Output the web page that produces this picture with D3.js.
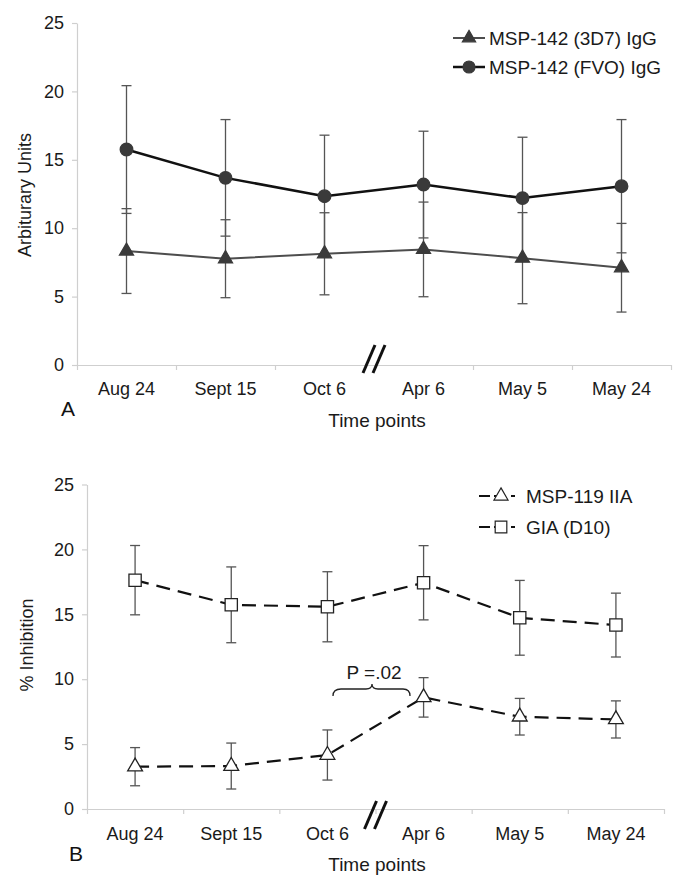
<!DOCTYPE html>
<html>
<head>
<meta charset="utf-8">
<script src="https://cdn.jsdelivr.net/npm/d3@7"></script>
<style>
  body { margin: 0; background: #fff; }
  svg { display: block; font-family: "Liberation Sans", Arial, sans-serif; }
</style>
</head>
<body>
<div id="mainDiv"></div>
<script>
const timePoints = ["Aug 24", "Sept 15", "Oct 6", "Apr 6", "May 5", "May 24"];
const yTicks = [0, 5, 10, 15, 20, 25];

// panel A
const msp142_3d7 = [8.33, 7.77, 8.13, 8.45, 7.81, 7.11];
const msp142_3d7Err = [3.1, 2.85, 3.0, 3.46, 3.33, 3.24];
const msp142_fvo = [15.75, 13.68, 12.34, 13.19, 12.2, 13.07];
const msp142_fvoErr = [4.67, 4.26, 4.46, 3.9, 4.45, 4.87];

// panel B
const msp119 = [3.26, 3.31, 4.16, 8.6, 7.11, 6.9];
const msp119Err = [1.47, 1.77, 1.93, 1.52, 1.41, 1.43];
const gia = [17.63, 15.73, 15.58, 17.43, 14.73, 14.17];
const giaErr = [2.67, 2.92, 2.7, 2.86, 2.88, 2.46];

const svg = d3.select("#mainDiv")
  .append("svg")
  .attr("width", 685)
  .attr("height", 890);

function drawPanel(panel) {
  let x = d3.scaleBand()
    .domain(timePoints)
    .range([panel.left, panel.right]);

  let xEdges = d3.scaleLinear()
    .domain([0, timePoints.length])
    .range([panel.left, panel.right]);

  let y = d3.scaleLinear()
    .domain([0, 25])
    .range([panel.bottom, panel.top]);

  const g = svg.append("g");

  // axes
  let yAxis = g.append("g")
    .attr("transform", `translate(${panel.left},0)`)
    .call(d3.axisLeft(y).tickValues(yTicks).tickSize(5).tickPadding(8).tickSizeOuter(0));

  let xAxis = g.append("g")
    .attr("transform", `translate(0,${panel.bottom})`)
    .call(d3.axisBottom(xEdges).tickValues(d3.range(timePoints.length + 1))
      .tickFormat("").tickSize(5).tickSizeOuter(0));

  let xLabels = g.append("g")
    .attr("transform", `translate(0,${panel.bottom + panel.labelOffset})`)
    .call(d3.axisBottom(x).tickSize(0).tickPadding(0));

  [yAxis, xAxis, xLabels].forEach(a => {
    a.select(".domain").attr("stroke", "#cfcfcf").attr("stroke-width", 1.2);
    a.selectAll(".tick line").attr("stroke", "#cfcfcf").attr("stroke-width", 1.2);
    a.selectAll(".tick text")
      .attr("font-size", 18)
      .attr("fill", "#1a1a1a")
      .attr("font-family", "Liberation Sans, Arial, sans-serif");
  });
  xLabels.select(".domain").remove();

  // y title
  g.append("text")
    .attr("transform", `translate(${panel.yTitleX},${panel.yTitleY}) rotate(-90)`)
    .attr("text-anchor", "middle")
    .attr("dominant-baseline", "central")
    .attr("font-size", 18)
    .attr("fill", "#1a1a1a")
    .text(panel.yTitle);

  g.append("text")
    .attr("x", 377)
    .attr("y", panel.bottom + 55)
    .attr("text-anchor", "middle")
    .attr("dominant-baseline", "central")
    .attr("font-size", 19)
    .attr("fill", "#1a1a1a")
    .text("Time points");

  g.append("text")
    .attr("x", panel.letterX)
    .attr("y", panel.letterY)
    .attr("text-anchor", "middle")
    .attr("dominant-baseline", "central")
    .attr("font-size", 21)
    .attr("fill", "#111")
    .text(panel.letter);

  // axis break
  let bx = xEdges(3);
  [-5, 5].forEach(dx => {
    g.append("line")
      .attr("x1", bx + dx + 6).attr("y1", panel.bottom + panel.breakY - 14)
      .attr("x2", bx + dx - 6).attr("y2", panel.bottom + panel.breakY + 14)
      .attr("stroke", "#111")
      .attr("stroke-width", 3);
  });

  // error bars
  panel.series.forEach(s => {
    const eb = g.append("g");
    s.values.forEach((v, i) => {
      let cx = x(timePoints[i]) + x.bandwidth() / 2;
      let y1 = y(v + s.err[i]);
      let y2 = y(v - s.err[i]);
      eb.append("line")
        .attr("x1", cx).attr("x2", cx).attr("y1", y1).attr("y2", y2)
        .attr("stroke", "#555").attr("stroke-width", 1.3);
      [y1, y2].forEach(yy => eb.append("line")
        .attr("x1", cx - 5).attr("x2", cx + 5).attr("y1", yy).attr("y2", yy)
        .attr("stroke", "#555").attr("stroke-width", 1.3));
    });
  });

  // lines and markers
  panel.series.forEach(s => {
    let line = d3.line()
      .x((d, i) => x(timePoints[i]) + x.bandwidth() / 2)
      .y(d => y(d));

    g.append("path")
      .datum(s.values)
      .attr("d", line)
      .attr("fill", "none")
      .attr("stroke", s.color)
      .attr("stroke-width", s.width)
      .attr("stroke-dasharray", s.dash);

    g.append("g")
      .selectAll("path")
      .data(s.values)
      .join("path")
      .attr("transform", (d, i) => `translate(${x(timePoints[i]) + x.bandwidth() / 2},${y(d)})`)
      .attr("d", d3.symbol(s.symbol, s.size))
      .attr("fill", s.fill)
      .attr("stroke", s.stroke)
      .attr("stroke-width", 1.3);
  });

  // legend
  panel.series.forEach((s, i) => {
    let ly = panel.legendY + i * panel.legendGap;
    g.append("line")
      .attr("x1", panel.legendX).attr("x2", panel.legendX + panel.legendLen)
      .attr("y1", ly).attr("y2", ly)
      .attr("stroke", s.color)
      .attr("stroke-width", s.width)
      .attr("stroke-dasharray", s.legendDash);
    g.append("path")
      .attr("transform", `translate(${panel.legendX + panel.legendLen / 2 + (s.dash ? 4 : 0)},${ly})`)
      .attr("d", d3.symbol(s.symbol, s.size * 0.9))
      .attr("fill", s.fill)
      .attr("stroke", s.stroke)
      .attr("stroke-width", 1.2);
    g.append("text")
      .attr("x", panel.legendTextX)
      .attr("y", ly)
      .attr("dominant-baseline", "central")
      .attr("font-size", 19)
      .attr("fill", "#1a1a1a")
      .text(s.name);
  });

  return { g, x, y };
}

drawPanel({
  left: 77, right: 671, top: 23, bottom: 365,
  labelOffset: 17, breakY: -6,
  yTitle: "Arbiturary Units", yTitleX: 25, yTitleY: 195,
  letter: "A", letterX: 68, letterY: 408,
  legendX: 453, legendLen: 32, legendTextX: 489, legendY: 38, legendGap: 29,
  series: [
    { name: "MSP-142 (3D7) IgG", values: msp142_3d7, err: msp142_3d7Err,
      color: "#4d4d4d", width: 2, dash: null, legendDash: null,
      symbol: d3.symbolTriangle, size: 85, fill: "#3a3a3a", stroke: "#3a3a3a" },
    { name: "MSP-142 (FVO) IgG", values: msp142_fvo, err: msp142_fvoErr,
      color: "#111", width: 2.5, dash: null, legendDash: null,
      symbol: d3.symbolCircle, size: 125, fill: "#3a3a3a", stroke: "#3a3a3a" },
  ],
});

let panelB = drawPanel({
  left: 87, right: 664, top: 484.5, bottom: 809,
  labelOffset: 18, breakY: 6,
  yTitle: "% Inhibition", yTitleX: 27, yTitleY: 645,
  letter: "B", letterX: 76, letterY: 853,
  legendX: 479, legendLen: 36, legendTextX: 526, legendY: 496, legendGap: 31,
  series: [
    { name: "MSP-119 IIA", values: msp119, err: msp119Err,
      color: "#111", width: 2.2, dash: "14,8", legendDash: "11,4,2,4,6,5",
      symbol: d3.symbolTriangle, size: 95, fill: "#fff", stroke: "#222" },
    { name: "GIA (D10)", values: gia, err: giaErr,
      color: "#111", width: 2.2, dash: "14,8", legendDash: "11,4,2,4,6,5",
      symbol: d3.symbolSquare, size: 150, fill: "#fff", stroke: "#222" },
  ],
});

// significance brace between Oct 6 and Apr 6
let braceY = 689;
panelB.g.append("path")
  .attr("d", `M333,696 Q333,${braceY} 341,${braceY} L366,${braceY} Q372,${braceY} 372,${braceY - 5}
    Q372,${braceY} 378,${braceY} L403,${braceY} Q410,${braceY} 410,696`)
  .attr("fill", "none")
  .attr("stroke", "#222")
  .attr("stroke-width", 1.3);

panelB.g.append("text")
  .attr("x", 374)
  .attr("y", 672)
  .attr("text-anchor", "middle")
  .attr("dominant-baseline", "central")
  .attr("font-size", 19)
  .attr("fill", "#1a1a1a")
  .text("P =.02");
</script>
</body>
</html>
